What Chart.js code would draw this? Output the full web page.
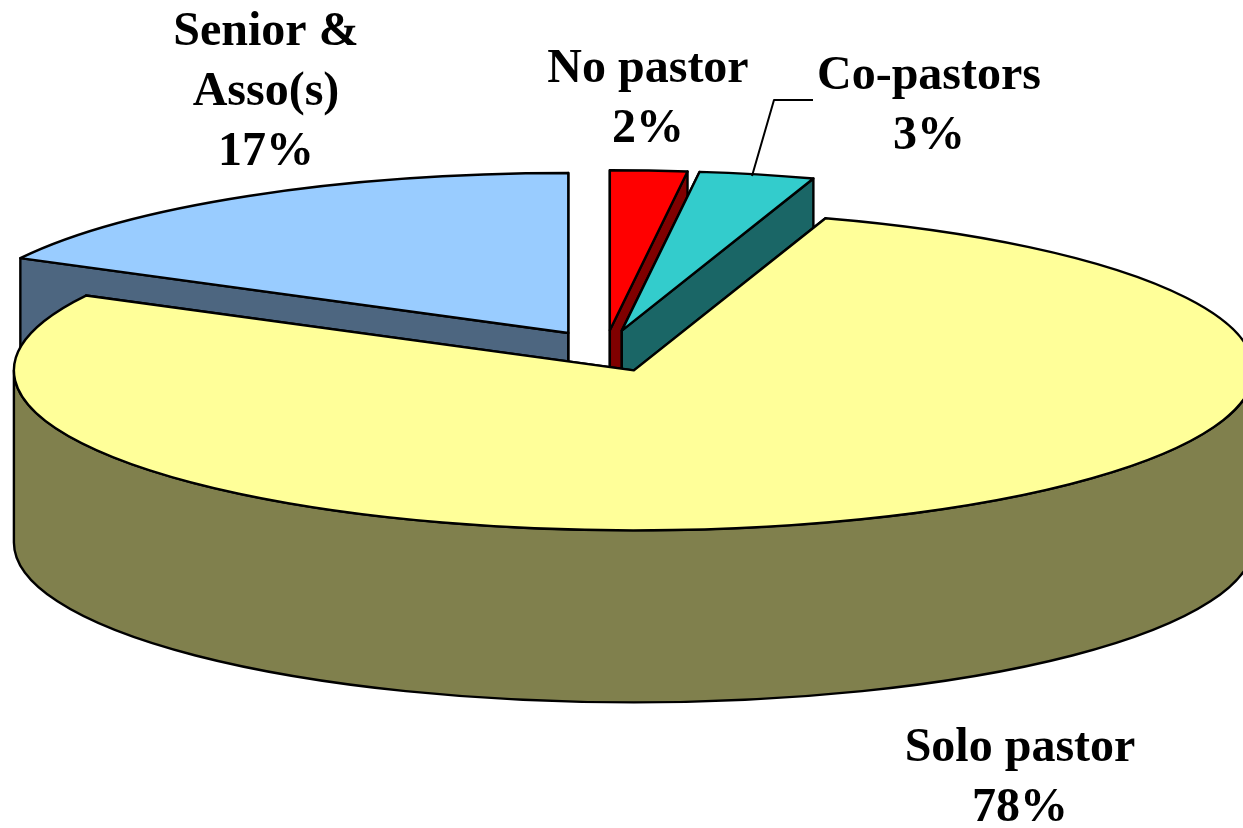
<!DOCTYPE html>
<html>
<head>
<meta charset="utf-8">
<script src="https://cdn.jsdelivr.net/npm/chart.js@4"></script>
<style>html,body{margin:0;padding:0;background:#fff;overflow:hidden}canvas{display:block}</style>
</head>
<body>
<canvas id="c" width="1243" height="828"></canvas>
<script>
const categories = ['No pastor', 'Co-pastors', 'Solo pastor', 'Senior & Asso(s)'];
const shareValues = [2, 3, 77.75, 17.25];
const topColors = ['#FF0000', '#33CCCC', '#FFFF99', '#99CCFF'];
const wallColors = ['#800000', '#1A6666', '#80804D', '#4D6680'];
const labelLines = [['No pastor'], ['Co-pastors'], ['Solo pastor'], ['Senior &', 'Asso(s)']];
const labelAnchors = [[648, 70], [929, 77], [1020, 749], [266, 33]];
const leaderLine = [[752, 176], [774, 100], [813, 100]];
const drawOrder = [3, 0, 1, 2];
const sliceNudge = [[0, 0], [0, 0], [0, 2], [3, 0]];

const SQUASH = 0.258, DEPTH = 172, EXPLODE = 77, LINE_H = 60;

const pie3d = {
  id: 'pie3d',
  beforeDatasetsDraw(chart) {
    const ctx = chart.ctx;
    const arcs = chart.getDatasetMeta(0).data;
    ctx.lineJoin = 'round';
    const strokeIt = () => { ctx.lineWidth = 2.4; ctx.strokeStyle = '#000'; ctx.stroke(); };
    drawOrder.forEach(i => {
      const arc = arcs[i];
      const { startAngle: a0, endAngle: a1, outerRadius: r } = arc;
      const mid = (a0 + a1) / 2;
      const x = arc.x + Math.cos(mid) * EXPLODE + sliceNudge[i][0];
      const y = arc.y + Math.sin(mid) * EXPLODE * SQUASH + sliceNudge[i][1];
      const ry = r * SQUASH;
      ctx.fillStyle = wallColors[i];
      // radial side walls
      [a0, a1].forEach(a => {
        const ex = x + Math.cos(a) * r, ey = y + Math.sin(a) * ry;
        ctx.beginPath();
        ctx.moveTo(x, y); ctx.lineTo(ex, ey);
        ctx.lineTo(ex, ey + DEPTH); ctx.lineTo(x, y + DEPTH);
        ctx.closePath(); ctx.fill(); strokeIt();
      });
      // outer rim wall, front half only
      const f0 = Math.max(a0, 0), f1 = Math.min(a1, Math.PI);
      if (f1 > f0) {
        ctx.beginPath();
        ctx.ellipse(x, y, r, ry, 0, f0, f1);
        ctx.ellipse(x, y + DEPTH, r, ry, 0, f1, f0, true);
        ctx.closePath(); ctx.fill(); strokeIt();
      }
      // top face: drawn by the library's arc element, squashed into an ellipse
      ctx.save();
      ctx.translate(x, y);
      ctx.scale(1, SQUASH);
      ctx.translate(-arc.x, -arc.y);
      arc.draw(ctx);
      ctx.restore();
      ctx.beginPath();
      ctx.moveTo(x, y);
      ctx.ellipse(x, y, r, ry, 0, a0, a1);
      ctx.closePath(); strokeIt();
    });
    // leader line
    ctx.beginPath();
    leaderLine.forEach((p, k) => k ? ctx.lineTo(p[0], p[1]) : ctx.moveTo(p[0], p[1]));
    ctx.lineWidth = 2; ctx.strokeStyle = '#000'; ctx.stroke();
    // labels
    ctx.fillStyle = '#000';
    ctx.font = 'bold 48px "Liberation Serif", "Times New Roman", serif';
    ctx.textAlign = 'center';
    ctx.textBaseline = 'middle';
    categories.forEach((_, i) => {
      const lines = labelLines[i].concat([Math.round(shareValues[i]) + '%']);
      lines.forEach((t, k) => ctx.fillText(t, labelAnchors[i][0], labelAnchors[i][1] + k * LINE_H));
    });
    return false;
  }
};

new Chart(document.getElementById('c'), {
  type: 'pie',
  data: {
    labels: categories,
    datasets: [{ data: shareValues, backgroundColor: topColors, borderWidth: 0, offset: 0 }]
  },
  options: {
    responsive: false,
    animation: false,
    radius: 620,
    layout: { padding: { left: 0, top: 0, right: 33, bottom: 128 } },
    plugins: { legend: { display: false }, tooltip: { enabled: false } }
  },
  plugins: [pie3d]
});
</script>
</body>
</html>
